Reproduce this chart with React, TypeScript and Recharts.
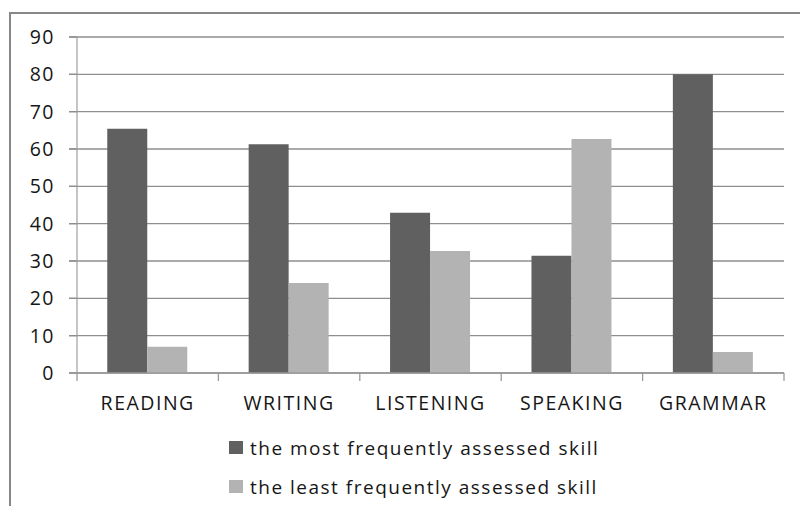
import React from 'react';
import { BarChart, Bar, XAxis, YAxis, CartesianGrid, Legend } from 'recharts';

const categories = ['READING', 'WRITING', 'LISTENING', 'SPEAKING', 'GRAMMAR'];
const mostValues = [65.4, 61.3, 42.9, 31.4, 80];
const leastValues = [7, 24.1, 32.7, 62.7, 5.6];
const yTicks = [0, 10, 20, 30, 40, 50, 60, 70, 80, 90];
const seriesNames = ['the most frequently assessed skill', 'the least frequently assessed skill'];
const seriesColors = ['#606060', '#b3b3b3'];

const data = categories.map((c, i) => ({ category: c, most: mostValues[i], least: leastValues[i] }));

const W = 800;
const H = 506;
const MARGIN = { top: 37, right: 16, left: 17, bottom: 93 };
const Y_WIDTH = 60;
const X_HEIGHT = 40;
const PLOT_LEFT = MARGIN.left + Y_WIDTH;
const PLOT_RIGHT = W - MARGIN.right;
const PLOT_BOTTOM = H - MARGIN.bottom - X_HEIGHT;
const BAND = (PLOT_RIGHT - PLOT_LEFT) / categories.length;
const FONT = '"Open Sans", sans-serif';
const TEXT = '#161616';

const XTick = (props: any) => {
  const { x, payload, index } = props;
  return (
    <g>
      <line x1={x - BAND / 2} x2={x - BAND / 2} y1={PLOT_BOTTOM} y2={PLOT_BOTTOM + 8} stroke="#9a9a9a" strokeWidth={1.3} />
      {index === categories.length - 1 && (
        <line x1={x + BAND / 2} x2={x + BAND / 2} y1={PLOT_BOTTOM} y2={PLOT_BOTTOM + 8} stroke="#9a9a9a" strokeWidth={1.3} />
      )}
      <text x={x} y={PLOT_BOTTOM + 37} textAnchor="middle" fill={TEXT} fontFamily={FONT} fontSize={19.5} letterSpacing={1.5}>
        {payload.value}
      </text>
    </g>
  );
};

const YTick = (props: any) => {
  const { x, y, payload } = props;
  return (
    <text x={x} y={y} dy={7} textAnchor="end" fill={TEXT} fontFamily={FONT} fontSize={19.5} letterSpacing={1.5}>
      {payload.value}
    </text>
  );
};

const renderLegend = (props: any) => {
  const payload = [...(props.payload || [])].sort(
    (a: any, b: any) => seriesNames.indexOf(a.value) - seriesNames.indexOf(b.value)
  );
  return (
    <div style={{ paddingLeft: 229 }}>
      {payload.map((p: any, i: number) => (
        <div key={i} style={{ height: 39, display: 'flex', alignItems: 'center' }}>
          <span style={{ display: 'inline-block', width: 14, height: 13, background: p.color, marginRight: 7 }} />
          <span style={{ fontFamily: FONT, fontSize: 19, letterSpacing: 1.5, color: TEXT, lineHeight: '20px' }}>{p.value}</span>
        </div>
      ))}
    </div>
  );
};

export default function App() {
  return (
    <div style={{ position: 'fixed', left: 0, top: 0, width: W, height: H, overflow: 'hidden', background: '#fff' }}>
      <div
        style={{
          position: 'absolute',
          left: 9,
          top: 12,
          width: 900,
          height: 700,
          border: '2px solid #878787',
          boxSizing: 'border-box',
        }}
      />
      <div style={{ position: 'absolute', left: 0, top: 0 }}>
        <BarChart width={W} height={H} data={data} margin={MARGIN} barCategoryGap="21.4%" barGap={0}>
          <CartesianGrid horizontal vertical={false} stroke="#8e8e8e" strokeWidth={1.3} x={69} width={PLOT_RIGHT - 69} />
          <XAxis
            dataKey="category"
            height={X_HEIGHT}
            axisLine={{ stroke: '#9a9a9a', strokeWidth: 1.3 }}
            tickLine={false}
            tick={<XTick />}
            interval={0}
          />
          <YAxis
            width={Y_WIDTH}
            domain={[0, 90]}
            ticks={yTicks}
            interval={0}
            axisLine={{ stroke: '#a6a6a6', strokeWidth: 1.3 }}
            tickLine={{ stroke: '#8e8e8e', strokeWidth: 1.3 }}
            tickSize={8}
            tickMargin={14}
            tick={<YTick />}
          />
          <Legend
            layout="vertical"
            align="center"
            verticalAlign="middle"
            content={renderLegend}
            wrapperStyle={{ top: 428, left: 0, width: W }}
          />
          <Bar dataKey="most" name={seriesNames[0]} fill={seriesColors[0]} isAnimationActive={false} />
          <Bar dataKey="least" name={seriesNames[1]} fill={seriesColors[1]} isAnimationActive={false} />
        </BarChart>
      </div>
    </div>
  );
}
